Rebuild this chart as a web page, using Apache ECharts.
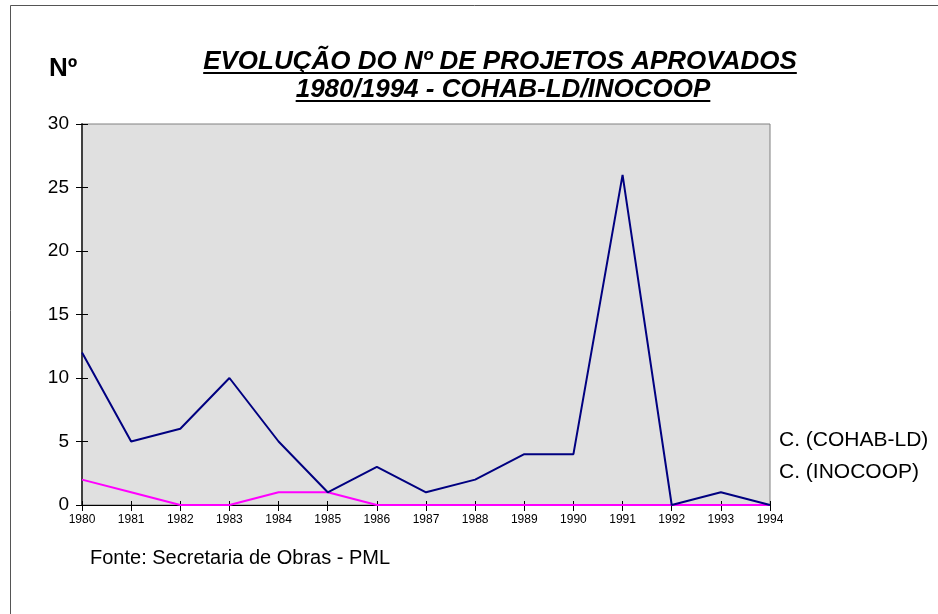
<!DOCTYPE html>
<html>
<head>
<meta charset="utf-8">
<script src="https://cdn.jsdelivr.net/npm/echarts@6/dist/echarts.min.js"></script>
<style>
  html, body { margin: 0; padding: 0; background: #fff; }
  #chart { width: 938px; height: 614px; }
</style>
</head>
<body>
<div id="chart"></div>
<script>
// dados
var anos = ['1980','1981','1982','1983','1984','1985','1986','1987','1988','1989','1990','1991','1992','1993','1994'];
var cohab = [12, 5, 6, 10, 5, 1, 3, 1, 2, 4, 4, 26, 0, 1, 0];
var inocoop = [2, 1, 0, 0, 1, 1, 0, 0, 0, 0, 0, 0, 0, 0, 0];
var nomes = ['C. (COHAB-LD)', 'C. (INOCOOP)'];
var titulo1 = 'EVOLUÇÃO DO Nº DE PROJETOS APROVADOS';
var titulo2 = '1980/1994 - COHAB-LD/INOCOOP';

var fonte = 'Liberation Sans, Arial, sans-serif';
var tituloFont = 'italic bold 26px ' + fonte;

// largura do texto p/ sublinhado
function largura(txt, font) {
  var c = document.createElement('canvas').getContext('2d');
  c.font = font;
  return c.measureText(txt).width;
}
var cx1 = 500, cx2 = 503;
var w1 = largura(titulo1, tituloFont);
var w2 = largura(titulo2, tituloFont);

var chart = echarts.init(document.getElementById('chart'));

var options = {
  backgroundColor: '#fff',
  animation: false,
  grid: {
    left: 82, right: 168, top: 124, bottom: 109,
    show: true,
    backgroundColor: '#e0e0e0',
    borderColor: '#808080',
    borderWidth: 1
  },
  legend: {
    orient: 'vertical',
    left: 769,
    top: 424,
    icon: 'none',
    itemWidth: 0,
    itemHeight: 23,
    itemGap: 10,
    textStyle: { fontFamily: fonte, fontSize: 21, color: '#000' },
    data: nomes
  },
  xAxis: [
    {
      type: 'category',
      boundaryGap: false,
      data: anos,
      axisLine: { lineStyle: { color: '#000', width: 1 } },
      axisTick: { show: true, length: 6, lineStyle: { color: '#000' } },
      axisLabel: { fontFamily: fonte, fontSize: 12, color: '#000', margin: 9, interval: 0 },
      splitLine: { show: false }
    },
    {
      type: 'category',
      position: 'bottom',
      boundaryGap: false,
      data: anos,
      axisLine: { show: false },
      axisTick: { show: true, inside: true, length: 4, lineStyle: { color: '#000' } },
      axisLabel: { show: false }
    }
  ],
  yAxis: [
    {
      type: 'value',
      min: 0, max: 30, interval: 5,
      axisLine: { show: true, lineStyle: { color: '#404040', width: 2 } },
      axisTick: { show: true, length: 6, lineStyle: { color: '#000' } },
      axisLabel: { fontFamily: fonte, fontSize: 19, color: '#000', margin: 13 },
      splitLine: { show: false }
    },
    {
      type: 'value',
      position: 'left',
      min: 0, max: 30, interval: 5,
      axisLine: { show: false },
      axisTick: { show: true, inside: true, length: 6, lineStyle: { color: '#000' } },
      axisLabel: { show: false },
      splitLine: { show: false }
    }
  ],
  series: [
    {
      name: nomes[0],
      type: 'line',
      data: cohab,
      symbol: 'none',
      lineStyle: { color: '#000080', width: 2 },
      itemStyle: { color: '#000080' },
      z: 3
    },
    {
      name: nomes[1],
      type: 'line',
      data: inocoop,
      symbol: 'none',
      lineStyle: { color: '#ff00ff', width: 2 },
      itemStyle: { color: '#ff00ff' },
      z: 2
    }
  ],
  graphic: [
    // moldura
    { type: 'rect', shape: { x: 10.5, y: 5.5, width: 1000, height: 700 },
      style: { fill: 'none', stroke: '#555', lineWidth: 1 }, z: -1 },
    { type: 'text', x: 49, y: 69,
      style: { text: 'Nº', font: 'bold 26px ' + fonte, fill: '#000', verticalAlign: 'middle' } },
    { type: 'text', x: cx1, y: 62,
      style: { text: titulo1, font: tituloFont, fill: '#000', align: 'center', verticalAlign: 'middle' } },
    { type: 'line', shape: { x1: cx1 - w1 / 2, y1: 73, x2: cx1 + w1 / 2, y2: 73 },
      style: { stroke: '#000', lineWidth: 2 } },
    { type: 'text', x: cx2, y: 90,
      style: { text: titulo2, font: tituloFont, fill: '#000', align: 'center', verticalAlign: 'middle' } },
    { type: 'line', shape: { x1: cx2 - w2 / 2, y1: 101, x2: cx2 + w2 / 2, y2: 101 },
      style: { stroke: '#000', lineWidth: 2 } },
    { type: 'text', x: 90, y: 558,
      style: { text: 'Fonte: Secretaria de Obras - PML', font: '20px ' + fonte, fill: '#000', verticalAlign: 'middle' } }
  ]
};

chart.setOption(options);
</script>
</body>
</html>
